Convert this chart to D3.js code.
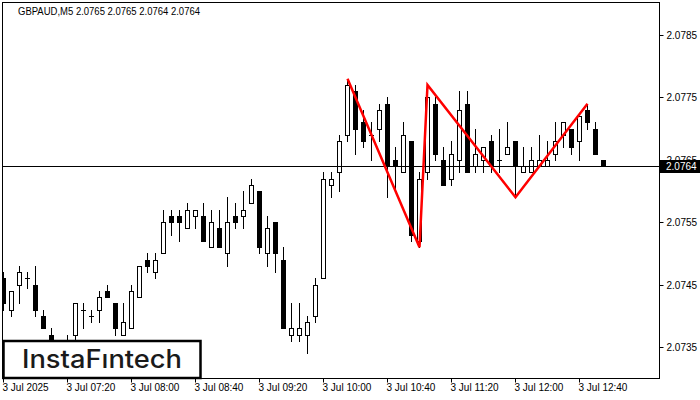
<!DOCTYPE html>
<html><head><meta charset="utf-8">
<script src="https://cdn.jsdelivr.net/npm/d3@7"></script>
<style>html,body{margin:0;padding:0;background:#fff;}svg{display:block;}</style>
</head><body>
<svg id="chart" width="700" height="400"></svg>
<script>
const times = ["06:40","06:45","06:50","06:55","07:00","07:05","07:10","07:15","07:20","07:25","07:30","07:35",
"07:40","07:45","07:50","07:55","08:00","08:05","08:10","08:15","08:20","08:25","08:30","08:35",
"08:40","08:45","08:50","08:55","09:00","09:05","09:10","09:15","09:20","09:25","09:30","09:35",
"09:40","09:45","09:50","09:55","10:00","10:05","10:10","10:15","10:20","10:25","10:30","10:35",
"10:40","10:45","10:50","10:55","11:00","11:05","11:10","11:15","11:20","11:25","11:30","11:35",
"11:40","11:45","11:50","11:55","12:00","12:05","12:10","12:15","12:20","12:25","12:30","12:35",
"12:40","12:45","12:50","12:55"];
const opens = [2.0746,2.0741,2.0745,2.0746,2.0745,2.0740,2.0737,2.0735,2.0735,2.0737,2.0741,2.0740,
2.0741,2.0744,2.0742,2.0737,2.0738,2.0743,2.0749,2.0747,2.0750,2.0756,2.0756,2.0754,
2.0756,2.0756,2.0751,2.0754,2.0750,2.0756,2.0756,2.0758,2.0760,2.0750,2.0755,2.0749,
2.0737,2.0737,2.0737,2.0740,2.0746,2.0761,2.0763,2.0769,2.0776,2.0771,2.0769,2.0770,
2.0774,2.0765,2.0763,2.0768,2.0752,2.0763,2.0774,2.0765,2.0762,2.0765,2.0774,2.0764,
2.0765,2.0768,2.0765,2.0766,2.0768,2.0763,2.0763,2.0764,2.0764,2.0766,2.0769,2.0770,
2.0768,2.0773,2.0770,2.0765];
const highs = [2.0747,2.0744,2.0748,2.0747,2.0748,2.0741,2.0738,2.07355,2.0737,2.0742,2.0742,2.0741,
2.0744,2.0745,2.0742,2.0742,2.0745,2.0748,2.0750,2.0750,2.0757,2.0757,2.0757,2.0758,
2.0757,2.0758,2.0757,2.0757,2.0759,2.0758,2.0760,2.0762,2.0760,2.0756,2.0755,2.0751,
2.0742,2.0742,2.0740,2.0746,2.0763,2.0763,2.0769,2.0778,2.0777,2.0773,2.0771,2.0774,
2.0775,2.0767,2.0771,2.0768,2.0763,2.0777,2.0775,2.0767,2.0768,2.0776,2.0776,2.0770,
2.0767,2.0769,2.0770,2.0771,2.0768,2.0767,2.0767,2.0769,2.0768,2.0771,2.0771,2.0770,
2.0772,2.0774,2.0771,2.0765];
const lows = [2.0741,2.0740,2.0742,2.07445,2.0740,2.0738,2.0734,2.0732,2.0733,2.0736,2.0738,2.0739,
2.0739,2.0743,2.0737,2.0737,2.0738,2.0743,2.0747,2.0746,2.0750,2.0753,2.0752,2.0754,
2.0754,2.0752,2.0751,2.0751,2.0748,2.0754,2.0754,2.0758,2.0750,2.0748,2.0747,2.0738,
2.0736,2.0736,2.0734,2.0739,2.0746,2.0759,2.0760,2.0768,2.0766,2.0767,2.0765,2.0768,
2.0759,2.0760,2.0763,2.0752,2.0751,2.0762,2.0765,2.0761,2.0761,2.0763,2.0763,2.0763,
2.0763,2.0763,2.0763,2.0766,2.0759,2.0763,2.0763,2.0764,2.0764,2.0765,2.0767,2.0766,
2.0765,2.0770,2.0766,2.0764];
const closes = [2.0742,2.0744,2.0747,2.0746,2.0741,2.0738,2.0735,2.0734,2.0736,2.0742,2.0741,2.0740,
2.0743,2.0743,2.0738,2.0739,2.0744,2.0748,2.0748,2.0749,2.0755,2.0755,2.0755,2.0757,
2.0757,2.0752,2.0755,2.0751,2.0755,2.0755,2.0757,2.0761,2.0751,2.0754,2.0750,2.0738,
2.0738,2.0738,2.0739,2.0745,2.0762,2.0762,2.0768,2.0777,2.0770,2.0768,2.0769,2.0773,
2.0764,2.0764,2.0769,2.0753,2.0762,2.0775,2.0766,2.0761,2.0766,2.0773,2.0763,2.0766,
2.0767,2.0764,2.0765,2.0767,2.0764,2.0764,2.0765,2.0765,2.0765,2.0768,2.0771,2.0767,
2.0772,2.0771,2.0766,2.0764];
const yTicks = [2.0735,2.0745,2.0755,2.0765,2.0775,2.0785];
const xTickTimes = ["06:40","07:20","08:00","08:40","09:20","10:00","10:40","11:20","12:00","12:40"];
const xTickLabels = ["3 Jul 2025","3 Jul 07:20","3 Jul 08:00","3 Jul 08:40","3 Jul 09:20","3 Jul 10:00","3 Jul 10:40","3 Jul 11:20","3 Jul 12:00","3 Jul 12:40"];
const patternTimes = ["10:15","11:00","11:05","12:00","12:45"];
const patternPrices = [2.0778,2.0751,2.0777,2.0759,2.0774];
const currentPrice = 2.0764;
const headerText = "GBPAUD,M5  2.0765 2.0765 2.0764 2.0764";

const svg = d3.select("#chart");
const L = 2.5, T = 2.5, R = 659.5, B = 378.5;
const x = d3.scaleBand().domain(times).range([-0.7, -0.7 + 8 * times.length]).paddingInner(0).paddingOuter(0);
const y = d3.scaleLinear().domain([2.0735, 2.0785]).range([347, 35]);
const cx = t => Math.round(x(t) + x.bandwidth() / 2);
const py = v => Math.round(y(v)) + 0.5;
const font = "'Liberation Sans', Arial, sans-serif";

svg.append("rect").attr("width", 700).attr("height", 400).attr("fill", "#fff");
svg.append("defs").append("clipPath").attr("id", "clip")
  .append("rect").attr("x", L).attr("y", T).attr("width", R - L).attr("height", B - T);

const plot = svg.append("g").attr("clip-path", "url(#clip)");
const data = times.map((t, i) => ({t, o: opens[i], h: highs[i], l: lows[i], c: closes[i]}));
const g = plot.selectAll("g.c").data(data).join("g").attr("class", "c");
g.append("line")
  .attr("x1", d => cx(d.t) + 0.5).attr("x2", d => cx(d.t) + 0.5)
  .attr("y1", d => Math.round(y(d.h))).attr("y2", d => Math.round(y(d.l)) + 1)
  .attr("stroke", "#000").attr("stroke-width", 1);
g.filter(d => Math.abs(y(d.o) - y(d.c)) >= 1).append("rect")
  .attr("x", d => cx(d.t) - 1.5).attr("width", 4)
  .attr("y", d => py(Math.max(d.o, d.c)))
  .attr("height", d => py(Math.min(d.o, d.c)) - py(Math.max(d.o, d.c)))
  .attr("fill", d => d.c >= d.o ? "#fff" : "#000")
  .attr("stroke", "#000").attr("stroke-width", 1);
g.filter(d => Math.abs(y(d.o) - y(d.c)) < 1).append("line")
  .attr("x1", d => cx(d.t) - 2).attr("x2", d => cx(d.t) + 3)
  .attr("y1", d => py(d.o)).attr("y2", d => py(d.o))
  .attr("stroke", "#000").attr("stroke-width", 1);

// current price line
plot.append("line").attr("x1", L).attr("x2", R)
  .attr("y1", py(currentPrice)).attr("y2", py(currentPrice))
  .attr("stroke", "#000").attr("stroke-width", 1);

// pattern
const line = d3.line().x((d, i) => cx(patternTimes[i]) + 0.5).y(d => y(d));
plot.append("path").datum(patternPrices).attr("d", line)
  .attr("fill", "none").attr("stroke", "#ff0000").attr("stroke-width", 2.5)
  .attr("stroke-linejoin", "miter");

// frame
svg.append("rect").attr("x", L).attr("y", T).attr("width", R - L).attr("height", B - T)
  .attr("fill", "none").attr("stroke", "#000").attr("stroke-width", 1);

// right axis
const yAxis = d3.axisRight(y).tickValues(yTicks).tickSize(4).tickPadding(3).tickFormat(d3.format(".4f"));
const ya = svg.append("g").attr("transform", `translate(${R},0)`).call(yAxis);
ya.select(".domain").remove();
ya.selectAll(".tick line").attr("stroke", "#000");
ya.selectAll(".tick").attr("transform", d => `translate(0,${py(d)})`);
ya.selectAll("text").attr("font-family", font).attr("font-size", 10).attr("fill", "#000");

// bottom axis
const xAxis = d3.axisBottom(x).tickValues(xTickTimes).tickSize(4).tickFormat((d, i) => xTickLabels[i]);
const xa = svg.append("g").attr("transform", `translate(0,${B})`).call(xAxis);
xa.select(".domain").remove();
xa.selectAll(".tick").attr("transform", d => `translate(${cx(d) + 0.5},0)`);
xa.selectAll(".tick line").attr("stroke", "#000");
xa.selectAll("text").attr("font-family", font).attr("font-size", 10).attr("fill", "#000")
  .attr("text-anchor", "start").attr("x", -1).attr("y", 5).attr("dy", "0.71em");

// current price label
svg.append("rect").attr("x", 660).attr("y", Math.round(y(currentPrice)) - 6).attr("width", 40).attr("height", 13).attr("fill", "#000");
svg.append("text").attr("x", 666).attr("y", Math.round(y(currentPrice)) + 4)
  .attr("font-family", font).attr("font-size", 10).attr("fill", "#fff").text(d3.format(".4f")(currentPrice));

// header
svg.append("text").attr("x", 18).attr("y", 15).attr("font-family", font).attr("font-size", 10)
  .attr("fill", "#000").attr("textLength", 182).attr("lengthAdjust", "spacingAndGlyphs").text(headerText);

// logo
svg.append("rect").attr("x", 3.5).attr("y", 341).attr("width", 197).attr("height", 37)
  .attr("fill", "#fff").attr("stroke", "#000").attr("stroke-width", 2.5);
svg.append("text").attr("x", 22).attr("y", 368).attr("font-family", "Inter, 'Open Sans', sans-serif")
  .attr("font-size", 25).attr("font-weight", 500).attr("fill", "#1a1a1a")
  .attr("textLength", 160).attr("lengthAdjust", "spacingAndGlyphs").text("InstaFıntech");
</script>
</body></html>
